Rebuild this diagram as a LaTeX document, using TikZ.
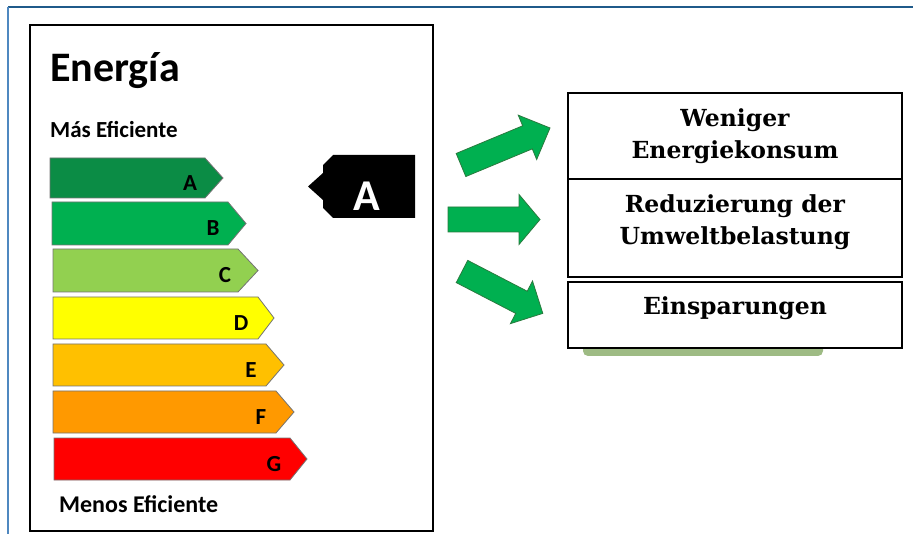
\documentclass[tikz,border=0pt]{standalone}
\usepackage{fontspec}
\newfontfamily\carlito{Carlito}
\newfontfamily\djserif{DejaVu Serif}
\definecolor{frametop}{HTML}{1F5A8A}
\definecolor{frameleft}{HTML}{4F88C0}
\definecolor{barA}{HTML}{0B8C45}
\definecolor{barB}{HTML}{00B050}
\definecolor{barC}{HTML}{92D050}
\definecolor{barD}{HTML}{FFFF00}
\definecolor{barE}{HTML}{FFC000}
\definecolor{barF}{HTML}{FF9900}
\definecolor{barG}{HTML}{FF0000}
\definecolor{arrgreen}{HTML}{00B050}
\definecolor{arrline}{HTML}{2A7A3E}
\definecolor{shadowgreen}{HTML}{9EBB84}
\tikzset{
  bar/.style={draw=black!55, line width=0.8pt, line join=miter},
  barletter/.style={font=\carlito\bfseries\fontsize{23}{23}\selectfont, anchor=base, inner sep=0pt},
  labeltxt/.style={font=\carlito\bfseries, anchor=base west, inner sep=0pt},
  boxframe/.style={draw=black, line width=1.5pt},
  boxtxt/.style={font=\djserif\bfseries\fontsize{23.5}{23.5}\selectfont, anchor=base, inner sep=0pt},
  greenarrow/.style={fill=arrgreen, draw=arrline, line width=0.8pt, line join=miter}
}
\begin{document}
\begin{tikzpicture}[x=1pt,y=-1pt]
\useasboundingbox (0,0) rectangle (913,534);
% outer frame
\draw[frametop, line width=2pt] (913,7.5) -- (7.5,7.5);
\draw[frameleft, line width=2pt] (7.5,7) -- (7.5,534);
% label frame
\draw[black, line width=2.6pt] (30,25) rectangle (433,531);
\node[labeltxt, font=\carlito\bfseries\fontsize{42}{42}\selectfont] (title) at (50,82) {Energía};
\node[labeltxt, font=\carlito\bfseries\fontsize{23}{23}\selectfont] (mas) at (50,138) {Más Eficiente};
\node[labeltxt, font=\carlito\bfseries\fontsize{24}{24}\selectfont] (menos) at (59,512) {Menos Eficiente};
% bars
\foreach \n/\l/\t/\b/\r/\p/\c in {A/50/158/198/205/223/barA, B/52/202/245/228/246/barB, C/53/249/292/238/258/barC, D/53/297/339/258/274/barD, E/53/344/386/266/284/barE, F/53/391/433/276/294/barF, G/54/438/480/290/307/barG}{
  \draw[bar, fill=\c] (\l,\t) -- (\r,\t) -- (\p,{(\t+\b)/2}) -- (\r,\b) -- (\l,\b) -- cycle;
  \node[barletter] (let\n) at ({\p-33},{(\t+\b)/2+12.5}) {\n};
}
% black rating tag
\fill[black] (333,155) -- (415,155) -- (415,218) -- (333,218) -- (323,208) -- (323,200) -- (308,186.5) -- (323,173) -- (323,165) -- cycle;
\node[font=\carlito\bfseries\fontsize{44}{44}\selectfont, text=white, anchor=base, inner sep=0pt] (tagA) at (367,211) {A};
% green arrows
\draw[greenarrow, shift={(461,165)}, rotate=22.6] (0,-12.5) -- (72,-12.5) -- (72,-24) -- (96.4,0) -- (72,24) -- (72,12.5) -- (0,12.5) -- cycle;
\draw[greenarrow, shift={(448,219.5)}] (0,-12.5) -- (71,-12.5) -- (71,-25) -- (92,0) -- (71,25) -- (71,12.5) -- (0,12.5) -- cycle;
\draw[greenarrow, shift={(462,271.5)}, rotate=-27.4] (0,-12.5) -- (67,-12.5) -- (67,-24) -- (91,0) -- (67,24) -- (67,12.5) -- (0,12.5) -- cycle;
% shadow under last box
\fill[shadowgreen, rounded corners=5pt] (583,338) rectangle (823,356);
% right boxes
\fill[white] (568,282) rectangle (902,348);
\draw[boxframe] (568,93) rectangle (902,179);
\draw[boxframe] (568,179) rectangle (902,277);
\draw[boxframe] (568,282) rectangle (902,348);
\node[boxtxt] (t1a) at (735,127) {Weniger};
\node[boxtxt] (t1b) at (735,159) {Energiekonsum};
\node[boxtxt] (t2a) at (735,213) {Reduzierung der};
\node[boxtxt] (t2b) at (735,245) {Umweltbelastung};
\node[boxtxt] (t3) at (735,315) {Einsparungen};
\end{tikzpicture}
\end{document}
